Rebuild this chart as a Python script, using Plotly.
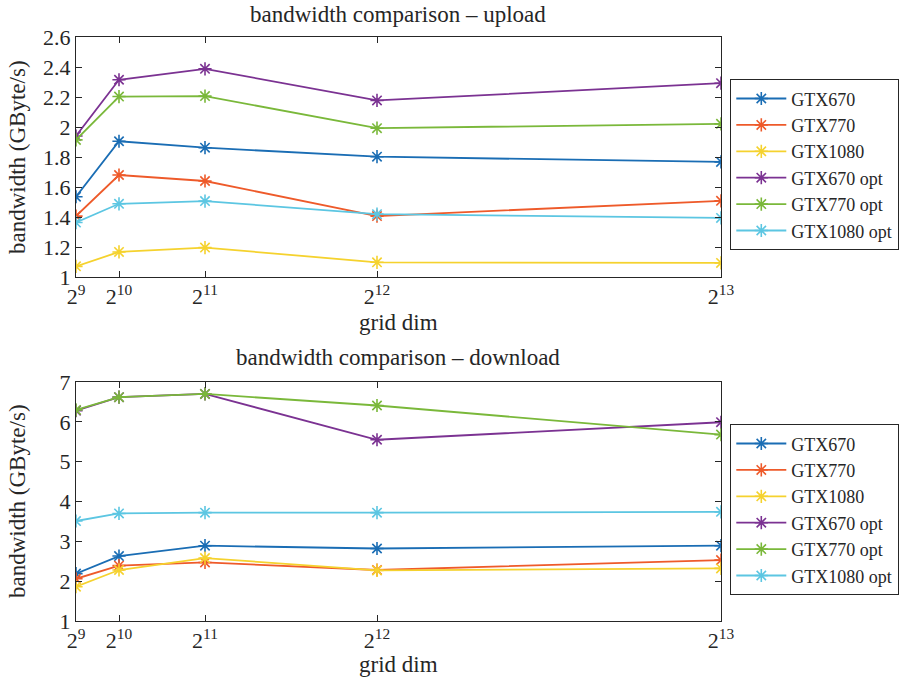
import plotly.graph_objects as go

grid_dims = [512, 1024, 2048, 4096, 8192]
tick_labels = ["2<sup>9</sup>", "2<sup>10</sup>", "2<sup>11</sup>", "2<sup>12</sup>", "2<sup>13</sup>"]
series_names = ["GTX670", "GTX770", "GTX1080", "GTX670 opt", "GTX770 opt", "GTX1080 opt"]
colors = ["#1A6DB4", "#EE5A2A", "#F5D22E", "#7B3292", "#7AB83A", "#5CC6E2"]

upload_gtx670 = [1.535, 1.905, 1.862, 1.802, 1.767]
upload_gtx770 = [1.406, 1.680, 1.640, 1.406, 1.508]
upload_gtx1080 = [1.071, 1.167, 1.196, 1.098, 1.094]
upload_gtx670_opt = [1.940, 2.315, 2.388, 2.177, 2.292]
upload_gtx770_opt = [1.914, 2.203, 2.206, 1.992, 2.021]
upload_gtx1080_opt = [1.363, 1.488, 1.506, 1.419, 1.394]

download_gtx670 = [2.19, 2.63, 2.89, 2.82, 2.89]
download_gtx770 = [2.06, 2.39, 2.47, 2.28, 2.53]
download_gtx1080 = [1.86, 2.28, 2.58, 2.27, 2.32]
download_gtx670_opt = [6.28, 6.62, 6.70, 5.55, 5.99]
download_gtx770_opt = [6.30, 6.62, 6.70, 6.41, 5.68]
download_gtx1080_opt = [3.51, 3.70, 3.72, 3.72, 3.74]

upload = [upload_gtx670, upload_gtx770, upload_gtx1080,
          upload_gtx670_opt, upload_gtx770_opt, upload_gtx1080_opt]
download = [download_gtx670, download_gtx770, download_gtx1080,
            download_gtx670_opt, download_gtx770_opt, download_gtx1080_opt]

FONT = "Liberation Serif"
W, H = 903, 681
TXT = "#262626"

fig = go.Figure()

for name, col, vals in zip(series_names, colors, upload):
    fig.add_trace(go.Scatter(
        x=grid_dims, y=vals, name=name, mode="lines+markers",
        line=dict(color=col, width=1.8),
        marker=dict(symbol="asterisk-open", size=11, line=dict(color=col, width=1.6)),
        xaxis="x", yaxis="y", legend="legend"))

for name, col, vals in zip(series_names, colors, download):
    fig.add_trace(go.Scatter(
        x=grid_dims, y=vals, name=name, mode="lines+markers",
        line=dict(color=col, width=1.8),
        marker=dict(symbol="asterisk-open", size=11, line=dict(color=col, width=1.6)),
        xaxis="x2", yaxis="y2", legend="legend2"))

xdom = [76 / W, 721 / W]
top_dom = [1 - 277 / H, 1 - 37 / H]
bot_dom = [1 - 621 / H, 1 - 382 / H]

axis_common = dict(
    showline=True, linecolor=TXT, linewidth=1, mirror="ticks",
    ticks="inside", ticklen=6, tickcolor=TXT, showgrid=False, zeroline=False,
    tickfont=dict(family=FONT, size=22, color=TXT),
)

legend_common = dict(xanchor="left", yanchor="top",
                     bgcolor="white", bordercolor=TXT, borderwidth=1.3,
                     font=dict(family=FONT, size=18, color=TXT),
                     tracegroupgap=0, itemwidth=50)

fig.update_layout(
    width=W, height=H,
    margin=dict(l=0, r=0, t=0, b=0, autoexpand=False),
    paper_bgcolor="white", plot_bgcolor="white",
    font=dict(family=FONT, color=TXT),
    xaxis=dict(domain=xdom, anchor="y", range=[512, 8192],
               tickvals=grid_dims, ticktext=tick_labels, **axis_common),
    yaxis=dict(domain=top_dom, anchor="x", range=[1, 2.6],
               tickvals=[1, 1.2, 1.4, 1.6, 1.8, 2, 2.2, 2.4, 2.6],
               ticktext=["1", "1.2", "1.4", "1.6", "1.8", "2", "2.2", "2.4", "2.6"],
               **axis_common),
    xaxis2=dict(domain=xdom, anchor="y2", range=[512, 8192],
                tickvals=grid_dims, ticktext=tick_labels, **axis_common),
    yaxis2=dict(domain=bot_dom, anchor="x2", range=[1, 7], dtick=1, **axis_common),
    legend=dict(x=730 / W, y=1 - 79 / H, **legend_common),
    legend2=dict(x=730 / W, y=1 - 424 / H, **legend_common),
)

ann = []
cx = (xdom[0] + xdom[1]) / 2
for txt, ypx in [("bandwidth comparison – upload", 14), ("bandwidth comparison – download", 357)]:
    ann.append(dict(text=txt, x=cx, y=1 - ypx / H, xref="paper", yref="paper",
                    showarrow=False, xanchor="center", yanchor="middle",
                    font=dict(family=FONT, size=23, color=TXT)))
for ypx in [322, 664]:
    ann.append(dict(text="grid dim", x=cx, y=1 - ypx / H, xref="paper", yref="paper",
                    showarrow=False, xanchor="center", yanchor="middle",
                    font=dict(family=FONT, size=23, color=TXT)))
for ypx in [157, 501]:
    ann.append(dict(text="bandwidth (GByte/s)", x=17 / W, y=1 - ypx / H, xref="paper", yref="paper",
                    showarrow=False, xanchor="center", yanchor="middle", textangle=-90,
                    font=dict(family=FONT, size=23, color=TXT)))
fig.update_layout(annotations=ann)

fig.write_html("out.html")
